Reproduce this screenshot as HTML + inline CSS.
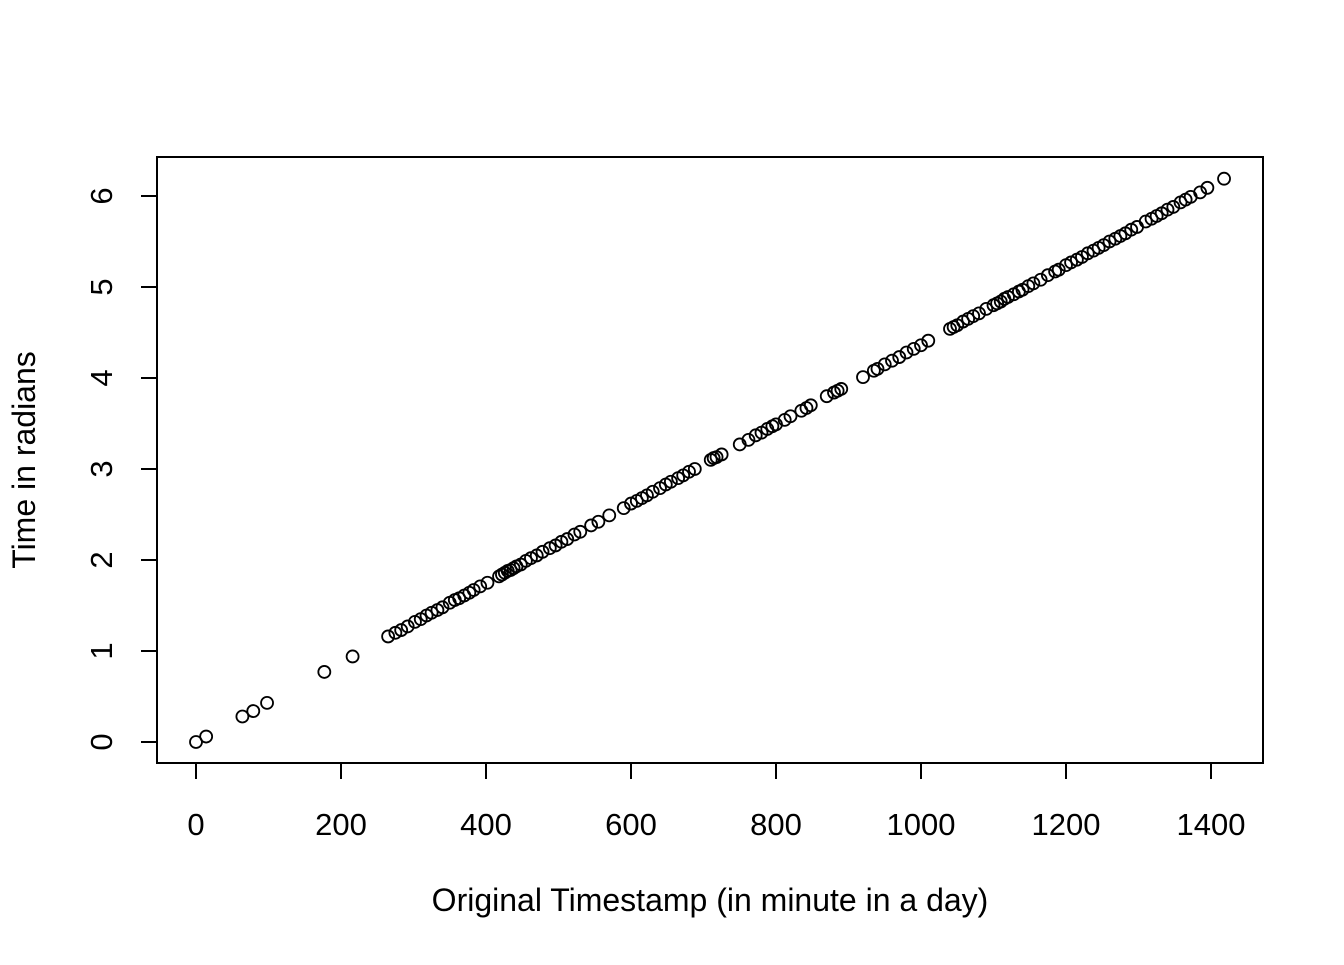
<!DOCTYPE html>
<html><head><meta charset="utf-8"><style>
body{margin:0;background:#fff}
svg text{font-family:"Liberation Sans",Arial,sans-serif;fill:#000}
</style></head><body>
<svg width="1344" height="960" xmlns="http://www.w3.org/2000/svg">
<rect x="157" y="157" width="1106" height="606" fill="none" stroke="#000" stroke-width="2"/>
<g id="xaxis"></g>
<g id="yaxis"></g>
<g id="pts"></g>
<text x="710" y="911" font-size="32" text-anchor="middle">Original Timestamp (in minute in a day)</text>
<text transform="translate(35,460) rotate(-90)" font-size="32" text-anchor="middle">Time in radians</text>
</svg>
<script>
const xTicks=[0,200,400,600,800,1000,1200,1400];
const yTicks=[0,1,2,3,4,5,6];
const xVals=[0,14,64,79,98,177,216,265,275,283,292,302,310,318,325,333,340,350,357,363,370,377,383,392,402,418,422,426,430,434,438,442,448,455,462,470,478,488,496,504,512,522,530,545,555,570,590,600,608,615,622,630,640,648,655,665,672,680,688,710,714,718,725,750,762,772,780,788,795,800,812,820,835,842,848,870,880,885,890,920,935,940,950,960,970,980,990,1000,1010,1040,1045,1050,1058,1065,1072,1080,1090,1100,1105,1110,1115,1120,1128,1135,1140,1148,1155,1165,1175,1185,1190,1200,1207,1215,1222,1230,1238,1245,1252,1260,1268,1275,1282,1290,1298,1310,1318,1325,1332,1340,1348,1358,1365,1372,1385,1395,1418];
const yVals=[0.00,0.06,0.28,0.34,0.43,0.77,0.94,1.16,1.20,1.23,1.27,1.32,1.35,1.39,1.42,1.45,1.48,1.53,1.56,1.58,1.61,1.64,1.67,1.71,1.75,1.82,1.84,1.86,1.88,1.89,1.91,1.93,1.95,1.99,2.02,2.05,2.09,2.13,2.16,2.20,2.23,2.28,2.31,2.38,2.42,2.49,2.57,2.62,2.65,2.68,2.71,2.75,2.79,2.83,2.86,2.90,2.93,2.97,3.00,3.10,3.12,3.13,3.16,3.27,3.32,3.37,3.40,3.44,3.47,3.49,3.54,3.58,3.64,3.67,3.70,3.80,3.84,3.86,3.88,4.01,4.08,4.10,4.15,4.19,4.23,4.28,4.32,4.36,4.41,4.54,4.56,4.58,4.62,4.65,4.68,4.71,4.76,4.80,4.82,4.84,4.87,4.89,4.92,4.95,4.97,5.01,5.04,5.08,5.13,5.17,5.19,5.24,5.27,5.30,5.33,5.37,5.40,5.43,5.46,5.50,5.53,5.56,5.59,5.63,5.66,5.72,5.75,5.78,5.81,5.85,5.88,5.93,5.96,5.99,6.04,6.09,6.19];
const NS="http://www.w3.org/2000/svg";
function X(v){return 196+v*(1211-196)/1400;}
function Y(v){return 742-v*91;}
function mk(t,a){const e=document.createElementNS(NS,t);for(const k in a)e.setAttribute(k,a[k]);return e;}
const xa=document.getElementById('xaxis');
xa.appendChild(mk('line',{x1:X(0),x2:X(1400),y1:763,y2:763,stroke:'#000','stroke-width':2}));
xTicks.forEach(t=>{
 const l=mk('line',{x1:X(t),x2:X(t),y1:763,y2:779,stroke:'#000','stroke-width':2});
 
 
 xa.appendChild(l);
 const tx=mk('text',{x:X(t),y:835,'font-size':31,'text-anchor':'middle'});
 
 
 tx.textContent=t;xa.appendChild(tx);
});
const ya=document.getElementById('yaxis');
ya.appendChild(mk('line',{x1:157,x2:157,y1:Y(0),y2:Y(6),stroke:'#000','stroke-width':2}));
yTicks.forEach(t=>{
 const l=mk('line',{x1:141,x2:157,y1:Y(t),y2:Y(t),stroke:'#000','stroke-width':2});
 
 
 ya.appendChild(l);
 const tx=mk('text',{transform:`translate(112,${Y(t)}) rotate(-90)`,'font-size':31,'text-anchor':'middle'});
 
 
 tx.textContent=t;ya.appendChild(tx);
});
const pg=document.getElementById('pts');
xVals.forEach((v,i)=>{
 const c=mk('circle',{cx:X(v),cy:Y(yVals[i]),r:6,fill:'none',stroke:'#000','stroke-width':1.8});
 
 
 pg.appendChild(c);
});
</script>
</body></html>
